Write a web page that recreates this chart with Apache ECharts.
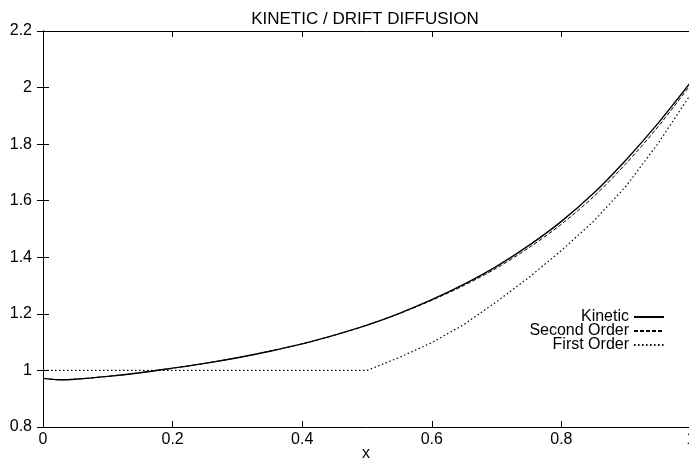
<!DOCTYPE html>
<html>
<head>
<meta charset="utf-8">
<script src="https://cdn.jsdelivr.net/npm/echarts@6/dist/echarts.min.js"></script>
<style>
  html, body { margin: 0; padding: 0; background: #fff; }
  #chart { width: 689px; height: 459px; }
</style>
</head>
<body>
<div id="chart"></div>
<script>
// x positions of the sampled points
var xs = [0, 0.025, 0.05, 0.1, 0.15, 0.2, 0.25, 0.3, 0.35, 0.4, 0.45, 0.5,
          0.55, 0.6, 0.65, 0.7, 0.75, 0.8, 0.85, 0.9, 0.95, 1.0];

// values
var kinetic = [0.972, 0.967, 0.969, 0.979, 0.992, 1.008, 1.025, 1.045, 1.068, 1.094, 1.125, 1.160,
               1.202, 1.250, 1.305, 1.368, 1.442, 1.527, 1.627, 1.745, 1.876, 2.020];
var secondOrder = [0.972, 0.967, 0.969, 0.979, 0.992, 1.008, 1.025, 1.045, 1.068, 1.094, 1.125, 1.160,
                   1.201, 1.248, 1.301, 1.362, 1.434, 1.517, 1.615, 1.732, 1.864, 2.012];
var firstOrder = [1.0, 1.0, 1.0, 1.0, 1.0, 1.0, 1.0, 1.0, 1.0, 1.0, 1.0, 1.0,
                  1.046, 1.098, 1.163, 1.243, 1.329, 1.424, 1.528, 1.652, 1.805, 1.978];

var xTicks = [0, 0.2, 0.4, 0.6, 0.8, 1];
var yTicks = [0.8, 1, 1.2, 1.4, 1.6, 1.8, 2, 2.2];

function pairs(ys) {
  return xs.map(function (x, i) { return [x, ys[i]]; });
}

var font = 'Liberation Sans, Arial, sans-serif';
var chart = echarts.init(document.getElementById('chart'));

// shared axis look: black line, inward ticks, like gnuplot
var axisBase = {
  type: 'value',
  axisLine: { show: true, lineStyle: { color: '#000', width: 1 } },
  axisTick: { show: true, inside: true, length: 6, lineStyle: { color: '#000' } },
  splitLine: { show: false }
};

chart.setOption({
  animation: false,
  backgroundColor: '#fff',
  title: {
    text: 'KINETIC / DRIFT DIFFUSION',
    left: 360,
    textAlign: 'center',
    top: 6,
    textStyle: { fontFamily: font, fontSize: 17, fontWeight: 'normal', color: '#000' }
  },
  grid: { left: 43, right: -2, top: 31, bottom: 32, outerBoundsMode: 'none', containLabel: false },
  legend: {
    orient: 'vertical',
    align: 'right',
    right: 19,
    top: 304,
    itemWidth: 30,
    itemHeight: 10,
    itemGap: -2,
    itemStyle: { opacity: 0 },
    textStyle: { fontFamily: font, fontSize: 16, color: '#000', lineHeight: 14 },
    data: ['Kinetic', 'Second Order', 'First Order']
  },
  // x axis title sits half off the bottom edge, as in the picture
  graphic: [{
    type: 'text',
    x: 366,
    y: 446,
    style: { text: 'x', fontFamily: font, fontSize: 16, fill: '#000', textAlign: 'center' }
  }],
  xAxis: [
    Object.assign({}, axisBase, {
      min: 0, max: 1, interval: 0.2,
      axisLabel: {
        fontFamily: font, fontSize: 16, color: '#000', margin: 5,
        formatter: function (v) { return xTicks.indexOf(+v.toFixed(1)) >= 0 ? String(+v.toFixed(1)) : ''; }
      }
    }),
    Object.assign({}, axisBase, {
      position: 'top', min: 0, max: 1, interval: 0.2,
      axisLabel: { show: false }
    })
  ],
  yAxis: [
    Object.assign({}, axisBase, {
      min: 0.8, max: 2.2, interval: 0.2,
      axisLabel: {
        fontFamily: font, fontSize: 16, color: '#000', margin: 11,
        formatter: function (v) { return yTicks.indexOf(+v.toFixed(1)) >= 0 ? String(+v.toFixed(1)) : ''; }
      }
    }),
    Object.assign({}, axisBase, {
      position: 'right', min: 0.8, max: 2.2, interval: 0.2,
      axisLabel: { show: false }
    })
  ],
  series: [
    {
      name: 'Kinetic',
      type: 'line',
      data: pairs(kinetic),
      smooth: 0.3,
      symbol: 'none',
      lineStyle: { color: '#000', width: 1.4, type: 'solid' },
      itemStyle: { color: '#000' }
    },
    {
      name: 'Second Order',
      type: 'line',
      data: pairs(secondOrder),
      smooth: 0.3,
      symbol: 'none',
      lineStyle: { color: '#000', width: 1, type: [4, 2] },
      itemStyle: { color: '#000' }
    },
    {
      name: 'First Order',
      type: 'line',
      data: pairs(firstOrder),
      symbol: 'none',
      lineStyle: { color: '#000', width: 1.2, type: [1.5, 2.5] },
      itemStyle: { color: '#000' }
    }
  ]
});
</script>
</body>
</html>
